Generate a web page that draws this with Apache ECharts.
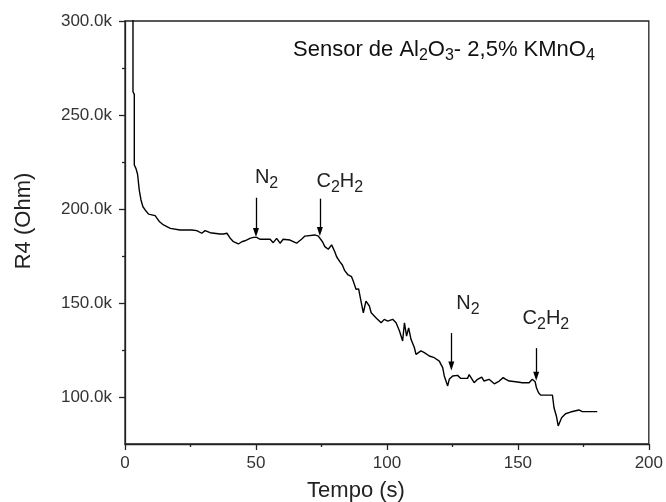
<!DOCTYPE html>
<html>
<head>
<meta charset="utf-8">
<script src="https://cdn.jsdelivr.net/npm/echarts@6/dist/echarts.min.js"></script>
<style>
html,body{margin:0;padding:0;background:#fff;}
#chart{width:666px;height:502px;}
</style>
</head>
<body>
<div id="chart"></div>
<script>
// ---- data (time in s, resistance in Ohm) ----
const timeS = [3.05, 3.05, 3.55, 3.55, 4.2, 4.8, 5.45, 6.1, 6.85, 7.7, 9.0, 11.5, 12.2, 13.2, 14.7, 17.3, 21.0, 25.5, 27.4, 29.3, 30.6, 32.5, 36.3, 37.6, 38.9, 40.1,
  41.4, 43.3, 44.6, 45.8, 47.7, 49.0, 50.3, 51.5, 55.4, 56.6, 57.9, 59.2, 60.4, 63.0, 65.5, 67.4, 68.7, 72.5, 73.8, 74.4,
  75.4, 76.3, 77.6, 78.9, 80.1, 80.8, 82.0, 83.0, 83.9, 85.2, 86.5, 87.2, 87.7, 88.2, 89.2, 90.1, 91.0, 92.0, 92.7, 93.3, 94.0,
  95.8, 97.8, 99.0, 100.3, 102.2, 103.5, 104.8, 106.0, 106.7, 107.5, 108.3, 109.2, 110.5, 111.1, 113.0, 114.3, 116.2, 118.1, 120.0,
  121.3, 121.9, 123.2, 123.8, 125.1, 127.0, 128.2, 130.8, 131.4, 132.0, 133.3, 134.6, 136.2, 137.1, 139.0, 141.0, 142.9, 144.4,
  145.4, 146.7, 149.2, 151.7, 154.3, 155.5, 156.6, 157.1, 157.9, 158.7, 163.2, 163.8, 164.7, 165.4, 166.7, 168.2, 170.1, 173.3, 174.6, 180.3];
const resistanceOhm = [330000, 262400, 261000, 223400, 221500, 218500, 210000, 204800, 201200, 199500, 197300, 196500, 196000, 193200, 191500, 189700, 188800, 188800, 188500, 187100, 188500, 187400, 186700, 186700, 187100, 184600,
  182600, 181400, 182600, 183100, 184400, 184900, 184900, 183900, 183900, 182100, 184400, 181800, 183900, 183500, 181800, 183900, 185600, 186200, 185600, 185500,
  182600, 180000, 178600, 180900, 177300, 174600, 172000, 170200, 167200, 164900, 164000, 161500, 160500, 157300, 157500, 151000, 144800, 151000, 151900, 148400, 144800,
  142200, 139500, 141300, 140400, 141300, 139500, 135100, 129800, 139500, 132400, 136800, 130700, 126200, 122700, 124500, 123600, 121800, 120900, 119100,
  115600, 111200, 105900, 109400, 111200, 111500, 109900, 109900, 111900, 110600, 107600, 109400, 110600, 108500, 109400, 107000, 108500, 110300,
  109400, 108500, 108100, 107600, 107600, 109400, 108100, 104900, 102300, 101000, 101000, 94300, 89900, 84600, 89000, 91100, 92000, 93100, 92200, 92200];

// gas-switch arrows: x position (s), arrow start / end resistance (Ohm)
const arrowTimes = [50, 74.4, 124.6, 157];
const arrowTop = [206000, 205500, 134000, 126000];
const arrowTip = [187500, 188000, 116500, 111000];
// arrow labels: text and anchor (left edge, cap middle) in data units
const arrowLabels = ['N{s|2}', 'C{s|2}H{s|2}', 'N{s|2}', 'C{s|2}H{s|2}'];
const labelTimes = [49.6, 73.1, 126.5, 151.8];
const labelOhm = [216500, 214400, 149500, 141500];

const xTicks = [0, 50, 100, 150, 200];
const yMajor = [100000, 150000, 200000, 250000, 300000];
const yMinor = [125000, 175000, 225000, 275000];

const xTitle = 'Tempo (s)';
const yTitle = 'R4 (Ohm)';
const noteText = 'Sensor de Al{s|2}O{s|3}- 2,5% KMnO{s|4}';

// ---- chart ----
const FONT = '"Liberation Sans", Arial, sans-serif';
const AX = '#222';
const chart = echarts.init(document.getElementById('chart'), null, {renderer: 'canvas'});

const lineData = timeS.map((t, i) => [t, resistanceOhm[i]]);
const markLines = arrowTimes.map((t, i) => [
  {coord: [t, arrowTop[i]], symbol: 'none'},
  {coord: [t, arrowTip[i]], symbol: 'triangle', symbolSize: [6, 9]}
]);
const markPoints = arrowLabels.map((txt, i) => ({
  coord: [labelTimes[i], labelOhm[i]],
  value: txt
}));

chart.setOption({
  animation: false,
  backgroundColor: '#fff',
  grid: {left: 125, right: 16, top: 21, bottom: 58, show: true, borderColor: AX, borderWidth: 1.3, backgroundColor: 'transparent'},
  xAxis: {
    type: 'value', min: xTicks[0], max: xTicks[xTicks.length - 1], interval: 50,
    axisLine: {show: true, lineStyle: {color: AX, width: 1.3}},
    axisTick: {show: true, length: 6, lineStyle: {color: AX, width: 1.3}},
    minorTick: {show: true, splitNumber: 2, length: 3, lineStyle: {color: AX, width: 1.3}},
    splitLine: {show: false}, minorSplitLine: {show: false},
    axisLabel: {fontSize: 17, color: '#333', fontFamily: FONT, margin: 11}
  },
  yAxis: [{
    type: 'value', min: 75000, max: 300000,
    axisLine: {show: true, lineStyle: {color: AX, width: 1.3}},
    axisTick: {show: true, length: 6, customValues: yMajor, lineStyle: {color: AX, width: 1.3}},
    axisLabel: {customValues: yMajor, fontSize: 17, color: '#333', fontFamily: FONT, margin: 13,
      formatter: v => (v / 1000).toFixed(1) + 'k'},
    splitLine: {show: false}
  }, {
    type: 'value', min: 75000, max: 300000, position: 'left',
    axisLine: {show: false},
    axisTick: {show: true, length: 3, customValues: yMinor, lineStyle: {color: AX, width: 1.3}},
    axisLabel: {show: false},
    splitLine: {show: false}
  }],
  series: [{
    type: 'line',
    data: lineData,
    showSymbol: false,
    clip: true,
    lineStyle: {color: '#000', width: 1.4},
    silent: true,
    markLine: {
      silent: true, animation: false,
      lineStyle: {color: '#000', width: 1.3, type: 'solid'},
      itemStyle: {color: '#000'},
      label: {show: false},
      emphasis: {disabled: true},
      data: markLines
    },
    markPoint: {
      silent: true, animation: false,
      symbol: 'circle', symbolSize: 0,
      label: {
        show: true, position: 'inside', align: 'left', verticalAlign: 'middle',
        color: '#222', fontFamily: FONT, fontSize: 20, lineHeight: 28,
        formatter: p => p.value,
        rich: {s: {fontSize: 16, lineHeight: 12, verticalAlign: 'bottom', fontFamily: FONT, color: '#222'}}
      },
      data: markPoints
    }
  }],
  graphic: [
    {type: 'text', left: 293, top: 36, silent: true,
      style: {text: noteText, fill: '#111', fontSize: 22, fontFamily: FONT, lineHeight: 28,
        rich: {s: {fontSize: 16, fontFamily: FONT, lineHeight: 16, verticalAlign: 'bottom', fill: '#111'}}}},
    {type: 'text', x: 356, y: 491, silent: true,
      style: {text: xTitle, fill: '#222', fontSize: 22, fontFamily: FONT, align: 'center', verticalAlign: 'middle'}},
    {type: 'text', x: 24, y: 221, rotation: Math.PI / 2, silent: true,
      style: {text: yTitle, fill: '#222', fontSize: 22, fontFamily: FONT, align: 'center', verticalAlign: 'middle'}}
  ]
});
</script>
</body>
</html>
